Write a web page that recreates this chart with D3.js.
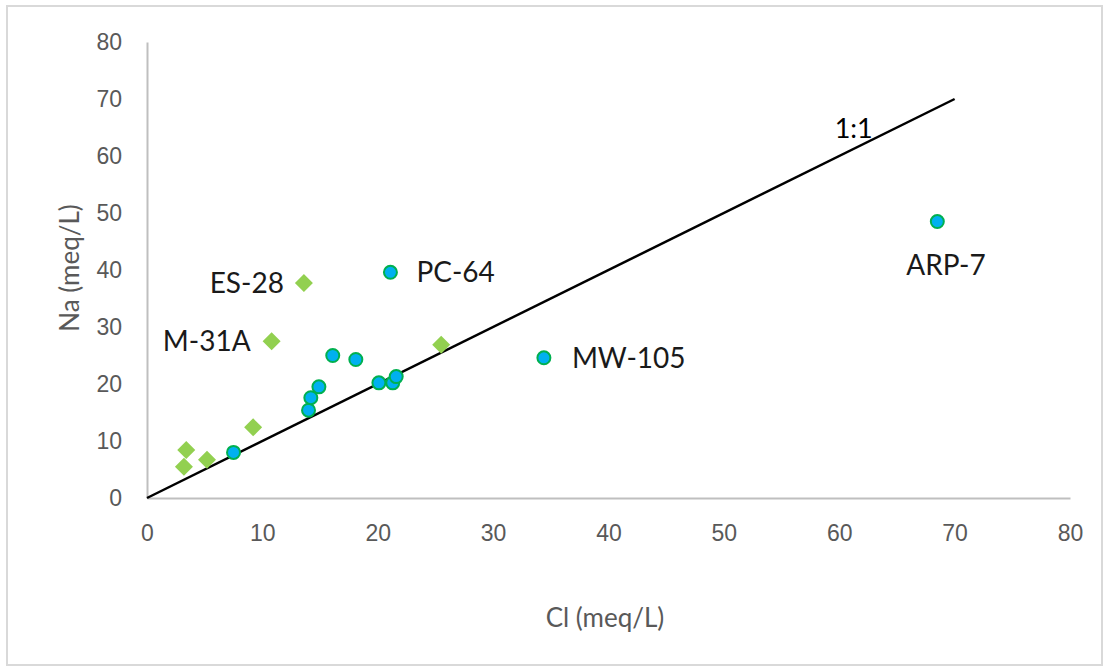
<!DOCTYPE html>
<html>
<head>
<meta charset="utf-8">
<script src="https://cdn.jsdelivr.net/npm/d3@7"></script>
<style>
  html, body { margin: 0; padding: 0; background: #fff; }
  svg { display: block; font-family: Lato, "Open Sans", sans-serif; }
</style>
</head>
<body>
<div id="chart"></div>
<script>
// Data (Cl, Na in meq/L)
var circleCl = [7.5, 14.0, 14.2, 14.9, 16.1, 18.1, 20.1, 21.3, 21.6, 21.1, 34.4, 68.5];
var circleNa = [8.0, 15.4, 17.6, 19.5, 25.0, 24.3, 20.2, 20.2, 21.3, 39.6, 24.6, 48.5];
var circleNames = ['', '', '', '', '', '', '', '', '', 'PC-64', 'MW-105', 'ARP-7'];

var diamondCl = [13.6, 10.8, 25.5, 9.2, 3.4, 3.2, 5.2];
var diamondNa = [37.7, 27.5, 26.9, 12.4, 8.4, 5.5, 6.7];
var diamondNames = ['ES-28', 'M-31A', '', '', '', '', ''];

var lineCl = [0, 70];
var lineNa = [0, 70];
var lineName = '1:1';

var xTicks = [0, 10, 20, 30, 40, 50, 60, 70, 80];
var yTicks = [0, 10, 20, 30, 40, 50, 60, 70, 80];

// Label placement (pixels from the point)
var labelOffset = {
  'PC-64': [26, 0, 'start'],
  'MW-105': [28, 0, 'start'],
  'ARP-7': [-31, 44, 'start'],
  'ES-28': [-20, 0, 'end'],
  'M-31A': [-21, 0, 'end']
};

var width = 1110, height = 670;
var margin = { top: 42, right: 40, bottom: 172, left: 147 };

var svg = d3.select('#chart').append('svg')
  .attr('width', width)
  .attr('height', height);

// Chart frame
svg.append('rect')
  .attr('x', 7).attr('y', 6)
  .attr('width', 1095).attr('height', 659)
  .attr('fill', '#fff')
  .attr('stroke', '#d9d9d9')
  .attr('stroke-width', 2);

var x = d3.scaleLinear().domain([0, 80]).range([margin.left, width - margin.right]);
var y = d3.scaleLinear().domain([0, 80]).range([height - margin.bottom, margin.top]);

// Axes
var xAxis = svg.append('g')
  .attr('transform', 'translate(0,' + y(0) + ')')
  .call(d3.axisBottom(x).tickValues(xTicks).tickSize(0).tickPadding(27));
var yAxis = svg.append('g')
  .attr('transform', 'translate(' + x(0) + ',0)')
  .call(d3.axisLeft(y).tickValues(yTicks).tickSize(0).tickPadding(25));

[xAxis, yAxis].forEach(function (g) {
  g.select('.domain').attr('stroke', '#bfbfbf').attr('stroke-width', 2);
  g.selectAll('text')
    .attr('fill', '#595959')
    .style('font-size', '23px');
});

svg.append('text')
  .attr('x', 605)
  .attr('y', 627)
  .attr('text-anchor', 'middle')
  .attr('fill', '#595959')
  .style('font-size', '26px')
  .text('Cl (meq/L)');

svg.append('text')
  .attr('transform', 'translate(79,' + 268 + ') rotate(-90)')
  .attr('text-anchor', 'middle')
  .attr('fill', '#595959')
  .style('font-size', '26px')
  .text('Na (meq/L)');

// 1:1 line
var line = d3.line()
  .x(function (d) { return x(d[0]); })
  .y(function (d) { return y(d[1]); });
svg.append('path')
  .datum(d3.zip(lineCl, lineNa))
  .attr('d', line)
  .attr('fill', 'none')
  .attr('stroke', '#000')
  .attr('stroke-width', 2.5);
svg.append('text')
  .attr('x', x(59.6))
  .attr('y', y(63.2))
  .attr('fill', '#000')
  .style('font-size', '27px')
  .text(lineName);

// Diamonds
var diamonds = d3.zip(diamondCl, diamondNa, diamondNames);
svg.append('g').selectAll('path')
  .data(diamonds)
  .enter()
  .append('path')
  .attr('d', d3.symbol().type(d3.symbolSquare).size(162)())
  .attr('transform', function (d) {
    return 'translate(' + x(d[0]) + ',' + y(d[1]) + ') rotate(45)';
  })
  .attr('fill', '#92d050');

// Circles
var circles = d3.zip(circleCl, circleNa, circleNames);
svg.append('g').selectAll('circle')
  .data(circles)
  .enter()
  .append('circle')
  .attr('cx', function (d) { return x(d[0]); })
  .attr('cy', function (d) { return y(d[1]); })
  .attr('r', 6.5)
  .attr('fill', '#00b0f0')
  .attr('stroke', '#00b050')
  .attr('stroke-width', 2);

// Data labels
svg.append('g').selectAll('text')
  .data(diamonds.concat(circles).filter(function (d) { return d[2]; }))
  .enter()
  .append('text')
  .attr('x', function (d) { return x(d[0]) + labelOffset[d[2]][0]; })
  .attr('y', function (d) { return y(d[1]) + labelOffset[d[2]][1]; })
  .attr('dy', '0.35em')
  .attr('text-anchor', function (d) { return labelOffset[d[2]][2]; })
  .attr('fill', '#1a1a1a')
  .style('font-size', '28px')
  .text(function (d) { return d[2]; });
</script>
</body>
</html>
